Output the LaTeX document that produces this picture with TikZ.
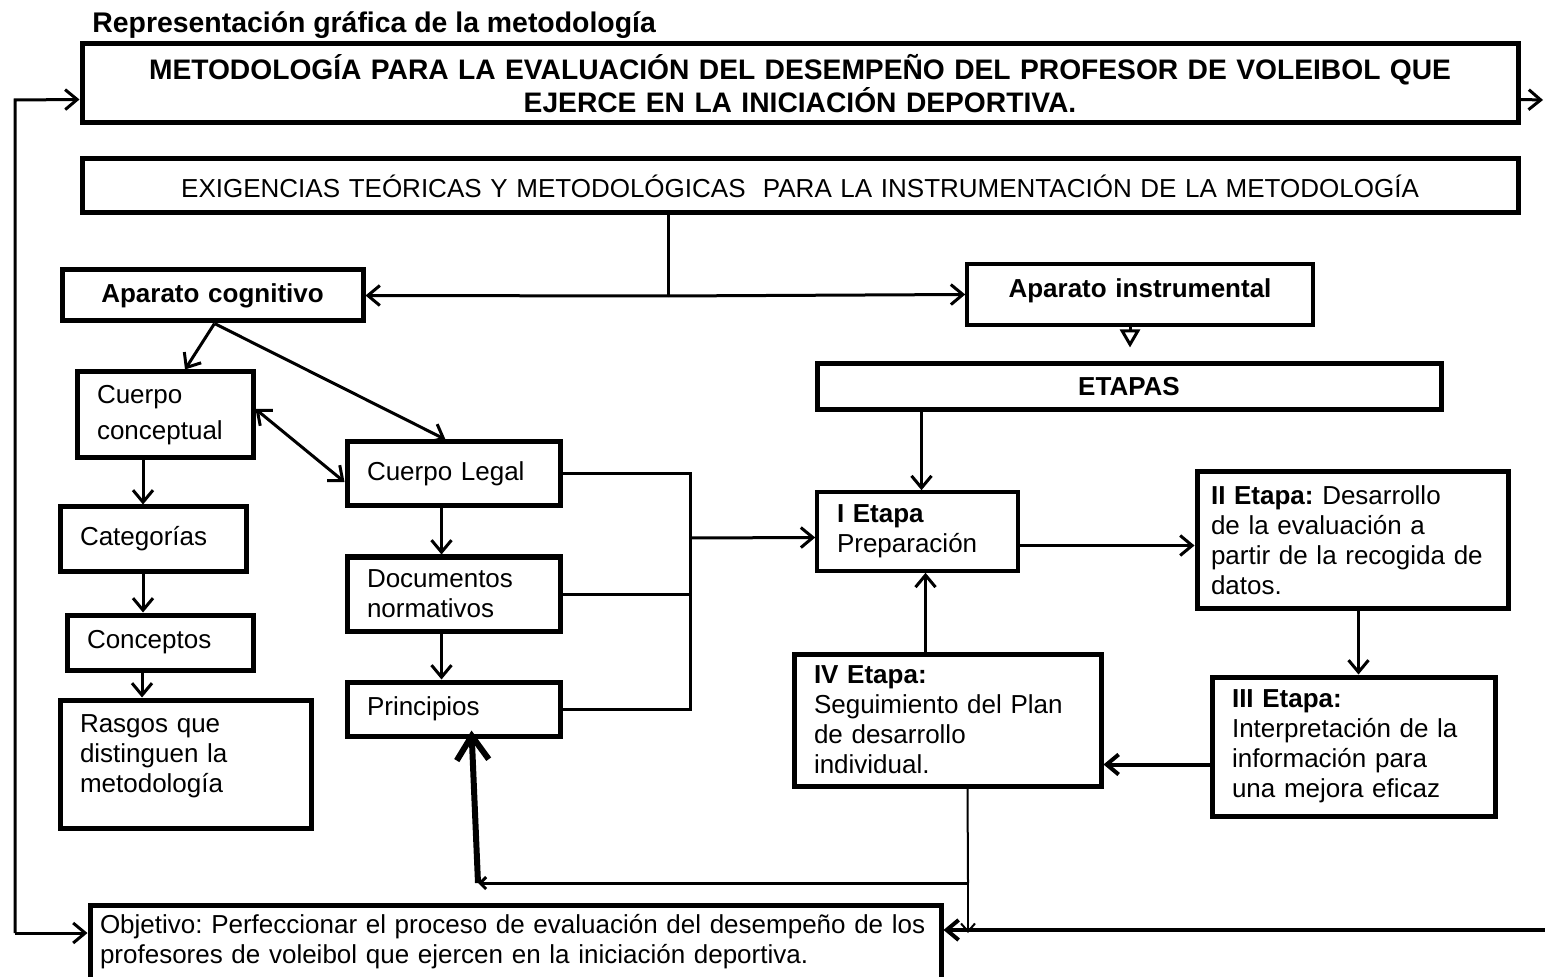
\documentclass[tikz,border=0pt]{standalone}
\usepackage{fontspec}
\setmainfont{Liberation Sans}
\usetikzlibrary{arrows.meta}
\begin{document}
\frenchspacing
\begin{tikzpicture}[x=0.5pt,y=-0.5pt,
	box/.style={draw,line width=2.5pt,inner xsep=10pt,inner ysep=0pt,align=left,font=\fontsize{13}{15}\selectfont},
	arr/.style={line width=1.5pt,-{Straight Barb[length=6pt,width=10pt]}},
	ln/.style={line width=1.5pt}]
		\useasboundingbox (0,0) rectangle (1545,977);
		\node[anchor=base west,inner sep=0pt,font=\bfseries\fontsize{14.2}{15}\selectfont] (head) at (92,33) {Representación gráfica de la metodología};
		\node[box,align=center,text width=698pt,minimum height=39.5pt,font=\bfseries\fontsize{14.1}{15}\selectfont] (title) at (800,83.5) {METODOLOGÍA PARA LA EVALUACIÓN DEL DESEMPEÑO DEL PROFESOR DE VOLEIBOL QUE\\EJERCE EN LA INICIACIÓN DEPORTIVA.};
		\node[box,align=center,text width=698pt,minimum height=27pt] (exig) at (800,186) {EXIGENCIAS TEÓRICAS Y METODOLÓGICAS~ PARA LA INSTRUMENTACIÓN DE LA METODOLOGÍA};
		\node[box,align=center,text width=130.5pt,minimum height=25.5pt] (apcog) at (212.5,295.5) {\bfseries Aparato cognitivo};
		\node[box,line width=1.8pt,align=center,text width=153pt,minimum height=30.5pt] (apins) at (1140,294.5) {\bfseries Aparato instrumental\rule[-6pt]{0pt}{6pt}};
		\node[box,align=center,text width=292pt,minimum height=23pt] (etapas) at (1129,387) {\bfseries ETAPAS};
		\node[box,text width=68pt,minimum height=43pt,font=\fontsize{13}{18}\selectfont] (cconc) at (165,415) {Cuerpo\\conceptual};
		\node[box,text width=86.5pt,minimum height=32pt] (clegal) at (453.5,474) {Cuerpo Legal};
		\node[box,text width=73pt,minimum height=32pt] (categ) at (153,539) {Categorías};
		\node[box,text width=73pt,minimum height=27.5pt] (concep) at (160,642.5) {Conceptos};
		\node[box,text width=105.5pt,minimum height=64pt] (rasgos) at (185.5,764) {Rasgos que\\distinguen la\\metodología\rule[-10pt]{0pt}{10pt}};
		\node[box,text width=86.5pt,minimum height=37pt] (docs) at (453.5,594) {Documentos\\normativos};
		\node[box,text width=86.5pt,minimum height=27pt] (princ) at (453.5,709) {Principios};
		\node[box,line width=1.8pt,text width=80.5pt,minimum height=39.5pt] (et1) at (917.5,531.5) {\textbf{I Etapa}\\Preparación};
		\node[box,inner xsep=7pt,text width=141.5pt,minimum height=68pt] (et2) at (1352.5,540) {\textbf{II Etapa:} Desarrollo\\de la evaluación a\\partir de la recogida de\\datos.};
		\node[box,text width=121.5pt,minimum height=69.5pt] (et3) at (1353.5,746.5) {\textbf{III Etapa:}\\Interpretación de la\\información para\\una mejora eficaz};
		\node[box,text width=133.5pt,minimum height=66pt] (et4) at (947.5,720) {\textbf{IV Etapa:}\\Seguimiento del Plan\\de desarrollo\\individual.};
		\node[box,inner xsep=5pt,text width=415.5pt,minimum height=40pt] (obj) at (515.5,945) {Objetivo: Perfeccionar el proceso de evaluación del desempeño de los\\profesores de voleibol que ejercen en la iniciación deportiva.\rule[-6pt]{0pt}{6pt}};
		\coordinate (hub) at (668,296);
		\coordinate (join) at (690,538);
		\coordinate (fb) at (968,883);
		\coordinate (fbl) at (478,883);
		\coordinate (lt) at (15,100);
		\coordinate (lb) at (15,933);
		\coordinate (rt) at (1543,100);
		\coordinate (rb) at (1545,930);
		\draw[ln] (exig.south -| hub) -- (hub);
		\draw[arr] (hub) -- (apcog.east);
		\draw[arr] (hub) -- (apins.west);
		\draw[line width=1.5pt,-{Triangle[open,length=9pt,width=10pt]}] ([xshift=-5pt]apins.south) -- ([xshift=-5pt,yshift=7pt]apins.south |- etapas.north);
		\draw[arr] ([xshift=2pt]et1.north |- etapas.south) -- ([xshift=2pt]et1.north);
		\draw[arr] ([xshift=1pt]apcog.south) -- ([xshift=10pt]cconc.north);
		\draw[arr] ([xshift=1pt]apcog.south) -- ([xshift=-4pt]clegal.north);
		\draw[line width=1.5pt,{Straight Barb[length=6pt,width=10pt]}-{Straight Barb[length=6pt,width=10pt]}] ([yshift=3pt]cconc.east) -- ([yshift=-4pt]clegal.west);
		\draw[arr] ([xshift=-11pt]cconc.south) -- ([xshift=-11pt]cconc.south |- categ.north);
		\draw[arr] ([xshift=-5pt]categ.south) -- ([xshift=-5pt]categ.south |- concep.north);
		\draw[arr] ([xshift=-9pt]concep.south) -- ([xshift=-9pt]concep.south |- rasgos.north);
		\draw[arr] ([xshift=-6pt]clegal.south) -- ([xshift=-6pt]docs.north);
		\draw[arr] ([xshift=-6pt]docs.south) -- ([xshift=-6pt]princ.north);
		\draw[ln] (clegal.east) -| (join |- princ.east) -- (princ.east);
		\draw[ln] (docs.east) -- (docs.east -| join);
		\draw[arr] (join) -- ([yshift=-3pt]et1.west);
		\draw[arr] ([yshift=-7pt]et1.east) -- ([yshift=-7pt]et1.east -| et2.west);
		\draw[arr] ([xshift=3pt]et2.south) -- ([xshift=3pt]et2.south |- et3.north);
		\draw[line width=2pt,-{Straight Barb[length=6pt,width=10pt]}] ([yshift=-9pt]et3.west) -- ([yshift=-9pt]et3.west -| et4.east);
		\draw[arr] ([xshift=-11pt]et4.north) -- ([xshift=-11pt]et4.north |- et1.south);
		\draw[line width=1pt] ([xshift=10pt]et4.south) -- (fb);
		\draw[line width=1.5pt,-{Straight Barb[length=3pt,width=6pt]}] (fb) -- (fbl);
		\draw[line width=3pt,-{Straight Barb[length=12pt,width=16pt]}] (fbl) -- ([xshift=9pt,yshift=4pt]princ.south);
		\draw[line width=1pt,-{Straight Barb[length=4pt,width=7pt]}] (fb) -- (fb |- lb);
		\draw[line width=2pt,-{Straight Barb[length=6pt,width=10pt]}] (rb) -- (rb -| obj.east);
		\draw[arr] (lb) -- (lt) -- ([yshift=-8pt]title.west);
		\draw[arr] (lb) -- (lb -| obj.west);
		\draw[arr] ([yshift=-8pt]title.east) -- (rt);
\end{tikzpicture}
\end{document}
